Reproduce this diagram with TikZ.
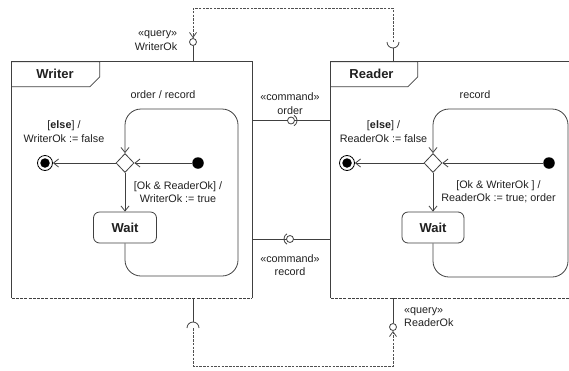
\documentclass[tikz,border=0pt]{standalone}
\usepackage{fontspec}
\setmainfont{Liberation Sans}
\usetikzlibrary{arrows.meta,shapes.geometric}
\definecolor{linecol}{HTML}{404040}
\definecolor{txtcol}{HTML}{202020}
\definecolor{depcol}{HTML}{505050}
\begin{document}
\begin{tikzpicture}[x=1pt,y=-1pt,
  frame/.style={draw=linecol,line width=0.8pt},
  framebot/.style={draw=linecol,line width=0.8pt,dash pattern=on 3pt off 1.2pt},
  region/.style={rectangle,inner sep=0pt,minimum width=#1,minimum height=236pt},
  lbl/.style={font=\fontsize{10.8}{13.5}\selectfont,text=txtcol,align=center,inner sep=0pt},
  title/.style={font=\fontsize{13}{15}\selectfont\bfseries,text=txtcol,inner sep=0pt},
  tr/.style={draw=linecol,line width=0.8pt,-{Straight Barb[length=5pt,width=8pt]}},
  dep/.style={draw=depcol,line width=0.8pt,dash pattern=on 2.5pt off 1.2pt,-{Straight Barb[length=5pt,width=7pt]}},
  choice/.style={diamond,draw=linecol,line width=0.8pt,fill=white,inner sep=0pt,minimum width=18pt,minimum height=19pt},
  initst/.style={circle,fill=black,inner sep=0pt,minimum size=11.5pt},
  finalst/.style={circle,draw=black,line width=0.8pt,fill=white,inner sep=0pt,minimum size=15pt},
  finalcore/.style={circle,fill=black,inner sep=0pt,minimum size=9.5pt},
  simple/.style={rectangle,rounded corners=6pt,draw=linecol,line width=0.8pt,fill=white,
    minimum width=#1,minimum height=31pt,inner sep=0pt,font=\fontsize{13}{15}\selectfont\bfseries,text=txtcol},
  ball/.style={circle,draw=linecol,line width=0.8pt,fill=white,inner sep=0pt,minimum size=7pt},
]
\useasboundingbox (0,0) rectangle (569,370);

% ---------- the two regions ----------
\node[region=240pt] (wf) at (132,180) {};
\node[region=279pt] (rf) at (470.5,180) {};
\draw[frame] (wf.south west) -- (wf.north west) -- (wf.north east) -- (wf.south east);
\draw[framebot] (wf.south west) -- (wf.south east);
\draw[frame] (rf.south east) -- (rf.north east) -- (rf.north west) -- (rf.south west);
\draw[framebot] (rf.south west) -- (rf.south east);

% name tabs
\draw[frame] (wf.north west) -- ++(88,0) -- ++(0,15) -- ++(-10,10) -- ++(-78,0);
\draw[frame] (rf.north west) -- ++(87,0) -- ++(0,15) -- ++(-10,10) -- ++(-77,0);
\node[title] (wtitle) at (55,74) {Writer};
\node[title] (rtitle) at (371.5,74) {Reader};

% ---------- Writer behaviour ----------
\node[choice] (wd) at (125,163) {};
\node[finalst] (wfin) at (45,163) {};
\node[finalcore] (wfinc) at (wfin) {};
\node[initst] (wi) at (198,163) {};
\node[simple=63pt] (ww) at (125,227.5) {Wait};
\coordinate (wl1) at (125,276);
\coordinate (wl2) at (238,276);
\coordinate (wl3) at (238,109);
\coordinate (wl4) at (125,109);
\draw[tr] (wi) -- (wd.east);
\draw[tr] (wd.west) -- (wfin);
\draw[tr] (wd.south) -- (ww.north);
\draw[tr,rounded corners=16pt] (ww.south) -- (wl1) -- (wl2) -- (wl3) -- (wl4) -- (wd.north);
\node[lbl] (wloop) at (163,95) {order / record};
\node[lbl] (welse) at (64,131.5) {[\textbf{else}] /\\WriterOk := false};
\node[lbl] (wok1) at (178,192) {[Ok \& ReaderOk] /\\WriterOk := true};

% ---------- Reader behaviour ----------
\node[choice] (rd) at (433,163) {};
\node[finalst] (rfin) at (347,163) {};
\node[finalcore] (rfinc) at (rfin) {};
\node[initst] (ri) at (549,163) {};
\node[simple=62pt] (rw) at (433,227.5) {Wait};
\coordinate (rl1) at (433,277);
\coordinate (rl2) at (568,277);
\coordinate (rl3) at (568,109);
\coordinate (rl4) at (433,109);
\draw[tr] (ri) -- (rd.east);
\draw[tr] (rd.west) -- (rfin);
\draw[tr] (rd.south) -- (rw.north);
\draw[tr,rounded corners=16pt] (rw.south) -- (rl1) -- (rl2) -- (rl3) -- (rl4) -- (rd.north);
\node[lbl] (rloop) at (475,95) {record};
\node[lbl] (relse) at (383.5,131.5) {[\textbf{else}] /\\ReaderOk := false};
\node[lbl] (rok1) at (498.5,192) {[Ok \& WriterOk ] /\\ReaderOk := true; order};

% ---------- command ports between the regions ----------
\coordinate (op) at (291,120.5);
\draw[frame] (wf.east |- op) -- (rf.west |- op);
\node[ball] (ob) at (op) {};
\draw[frame] (ob.center) ++(-60:6pt) arc[start angle=-60,end angle=60,radius=6pt];
\node[lbl] (olbl) at (290,103.5) {«command»\\order};

\coordinate (cp) at (290,239);
\draw[frame] (wf.east |- cp) -- (rf.west |- cp);
\node[ball] (cb) at (cp) {};
\draw[frame] (cb.center) ++(120:6pt) arc[start angle=120,end angle=240,radius=6pt];
\node[lbl] (clbl) at (290,265) {«command»\\record};

% ---------- query ports ----------
% WriterOk provided on top of Writer, required on top of Reader
\node[ball] (wq) at (193,42) {};
\draw[frame] (wq.south) -- (wq |- wf.north);
\coordinate (rs) at (393,42);
\draw[frame] (rs) ++(-6pt,0) arc[start angle=180,end angle=360,radius=6pt];
\draw[frame] ([yshift=-6pt]rs) -- (rs |- rf.north);
\coordinate (topline) at (0,8);
\draw[dep] (rs) -- (rs |- topline) -| (wq.north);
\node[lbl,align=right] (wqlbl) at (156,40.5) {«query»\\WriterOk};

% ReaderOk provided below Reader, required below Writer
\node[ball] (rq) at (393,327) {};
\draw[frame] (rq.north) -- (rq |- rf.south);
\coordinate (ws) at (193,328);
\draw[frame] (ws) ++(-6pt,0) arc[start angle=180,end angle=0,radius=6pt];
\draw[frame] ([yshift=6pt]ws) -- (ws |- wf.south);
\coordinate (botline) at (0,366);
\draw[dep] (ws) -- (ws |- botline) -| (rq.south);
\node[lbl,align=left,anchor=west] (rqlbl) at (404,317) {«query»\\ReaderOk};
\end{tikzpicture}
\end{document}
